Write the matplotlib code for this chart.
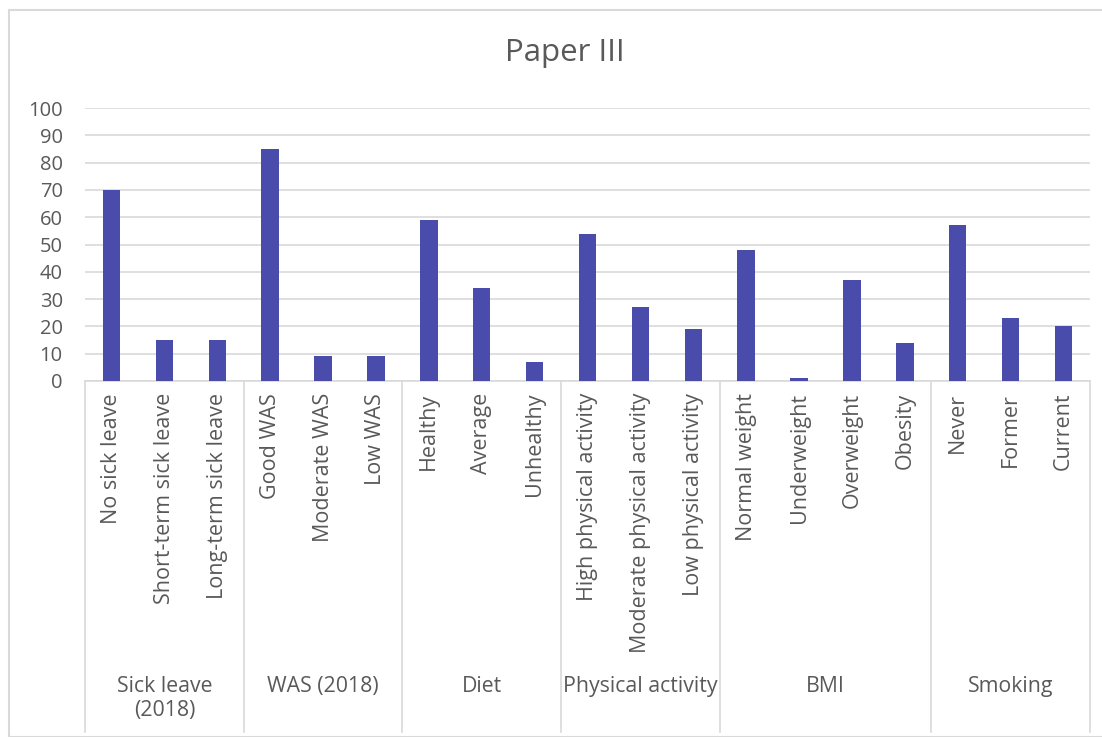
import numpy as np
import matplotlib.pyplot as plt
from matplotlib.patches import Rectangle

labels = ["No sick leave", "Short-term sick leave", "Long-term sick leave",
          "Good WAS", "Moderate WAS", "Low WAS",
          "Healthy", "Average", "Unhealthy",
          "High physical activity", "Moderate physical activity", "Low physical activity",
          "Normal weight", "Underweight", "Overweight", "Obesity",
          "Never", "Former", "Current"]
values = [70, 15, 15, 85, 9, 9, 59, 34, 7, 54, 27, 19, 48, 1, 37, 14, 57, 23, 20]
groups = ["Sick leave\n(2018)", "WAS (2018)", "Diet", "Physical activity", "BMI", "Smoking"]
group_sizes = [3, 3, 3, 3, 4, 3]

plt.rcParams['font.family'] = ['Open Sans', 'DejaVu Sans']
txt = '#595959'
grid = '#d9d9d9'

W, H = 1102, 737
fig = plt.figure(figsize=(W / 100, H / 100), dpi=100)
fig.patches.append(Rectangle((9 / W, 0), 1.0, 1 - 10 / H, transform=fig.transFigure,
                             fill=False, edgecolor='#d9d9d9', lw=1.5))

x0, x1, yb, yt = 85, 1090, 381, 108
ax = fig.add_axes([x0 / W, 1 - yb / H, (x1 - x0) / W, (yb - yt) / H])

n = len(labels)
x = np.arange(n)
ax.bar(x, values, width=0.33, color='#4a4cab', zorder=3)
ax.set_xlim(-0.5, n - 0.5)
ax.set_ylim(0, 100)
ax.set_yticks(range(0, 101, 10))
ax.yaxis.grid(True, color=grid, lw=1.2, zorder=0)
ax.tick_params(axis='y', length=0, labelsize=14.5, labelcolor=txt, pad=16)
ax.set_xticks([])
for s in ['top', 'right', 'left']:
    ax.spines[s].set_visible(False)
ax.spines['bottom'].set_color(grid)
ax.spines['bottom'].set_linewidth(1.2)

ph = yb - yt
tr = ax.get_xaxis_transform()
for i, lab in enumerate(labels):
    ax.text(i, -12 / ph, lab, rotation=90, ha='center', va='top', fontsize=15.5,
            color=txt, transform=tr)

bounds = np.concatenate([[0], np.cumsum(group_sizes)]) - 0.5
for b in bounds:
    ax.plot([b, b], [0, -(732 - yb) / ph], color=grid, lw=1.2, transform=tr, clip_on=False)
for g, a, b in zip(groups, bounds[:-1], bounds[1:]):
    ax.text((a + b) / 2, -(676 - yb) / ph, g, ha='center', va='top', fontsize=15.3,
            color=txt, transform=tr, linespacing=1.2)

fig.text(565 / W, 1 - 53 / H, "Paper III", ha='center', va='center', fontsize=22.5, color=txt)

fig.savefig('out.png', dpi=100)
